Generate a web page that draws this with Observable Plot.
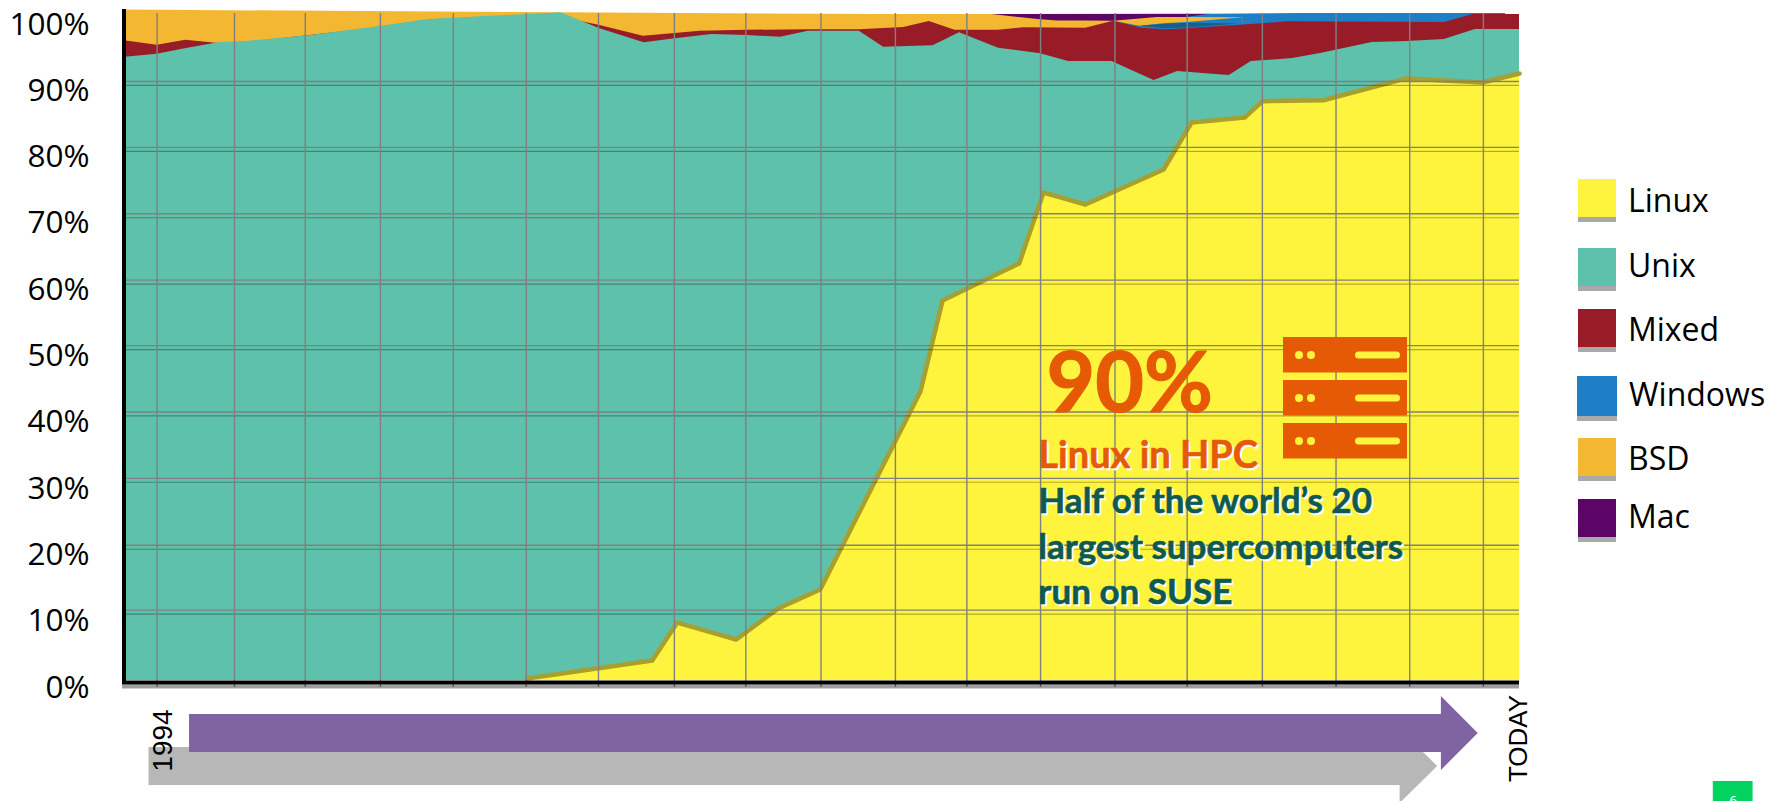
<!DOCTYPE html>
<html>
<head>
<meta charset="utf-8">
<script src="https://cdn.jsdelivr.net/npm/d3@7"></script>
<script src="https://cdn.jsdelivr.net/npm/@observablehq/plot@0.6"></script>
<style>
html,body{margin:0;padding:0;background:#fff;width:1770px;height:801px;overflow:hidden}
#chart{position:absolute;left:0;top:0}
#chart svg{display:block}
.swatch{position:absolute}
.label{position:absolute;font-family:"Open Sans",sans-serif;font-size:32px;line-height:40px;color:#000;white-space:nowrap}
</style>
</head>
<body>
<div id="chart"></div>
<script>
// Upper edge of each operating system's share of the TOP500 (cumulative %).
const linuxYears = [1999.02,2000.72,2001.06,2001.86,2002.43,2003.00,2004.36,2004.66,2005.70,2006.03,2006.60,2007.66,2008.04,2008.76,2009.00,2009.83,2010.94,2011.99,2012.49];
const linuxTop   = [0,2.71,8.44,5.88,10.55,13.42,43.28,57.01,62.59,73.30,71.49,76.77,83.86,84.61,87.07,87.22,90.49,89.89,91.25];

const unixYears = [1993.53,1994.00,1994.38,1994.83,1995.24,1996.09,1997.04,1997.68,1997.99,1999.48,2000.01,2000.61,2001.03,2001.53,2002.01,2002.46,2002.84,2003.53,2003.86,2004.53,2004.89,2005.42,2005.99,2006.37,2006.96,2007.53,2007.85,2008.55,2008.85,2009.41,2009.79,2010.49,2010.97,2011.47,2011.89,2012.49];
const unixTop   = [93.96,94.46,95.27,96.18,96.42,97.28,98.68,99.69,99.89,100.70,98.29,96.18,96.78,97.43,97.28,97.02,97.93,97.93,95.52,95.73,97.69,95.37,94.52,93.36,93.36,90.49,91.85,91.25,93.36,93.81,94.57,96.23,96.38,96.68,98.19,98.19];

const mixedYears = [1993.53,1994.00,1994.39,1994.83,1995.24,1997.99,1999.48,1999.74,2000.01,2000.60,2001.37,2002.01,2002.84,2003.53,2004.13,2004.48,2004.83,2005.42,2005.76,2006.60,2006.98,2007.37,2007.68,2007.98,2009.00,2009.34,2011.47,2011.86,2012.49];
const mixedTop   = [96.53,95.82,96.57,96.07,96.23,99.69,100.52,99.44,98.79,97.18,97.93,98.08,98.14,98.14,98.49,99.39,98.08,98.08,98.44,98.38,99.44,98.38,98.14,98.29,99.05,99.35,99.24,100.45,100.45];

const windowsYears = [2006.98,2007.34,2007.66,2007.98,2008.74];
const windowsTop   = [99.44,98.68,99.05,99.24,99.95];
const windowsOverYears = [2007.98,2008.29,2009.52,2012.30];
const windowsOverTop   = [100.04,100.49,100.60,100.60];
const windowsOverlapYears = [2007.34,2007.68,2007.98,2008.66];
const windowsOverlapLow   = [98.68,98.29,98.41,98.97];
const windowsOverlapHigh  = [98.68,98.97,99.14,99.02];

const bsdYears = [1993.53,1999.48,2003.81,2005.33,2005.99,2006.22,2006.60,2006.98,2007.38,2007.57,2007.98,2008.74];
const bsdTop   = [101.13,100.70,100.45,100.45,99.65,99.47,99.47,99.44,99.80,100.00,100.00,99.95];

const macYears = [2005.33,2008.29];
const macTop   = [100.45,100.49];

const yTicks = [0,10,20,30,40,50,60,70,80,90,100];
const gridYears = [1994.00,1995.05,1996.01,1997.03,1998.02,1999.01,1999.99,2001.02,2001.99,2003.01,2004.02,2004.99,2005.99,2007.00,2007.98,2009.00,2010.00,2011.00,2012.00];
const gridUpper = [90.35,80.40,70.40,60.40,50.50,40.50,30.50,20.40,10.60];
const gridLower = [89.75,79.80,69.80,59.80,49.90,39.90,29.90,19.80,10.00];

const headline = "90%";
const subhead = "Linux in HPC";
const bodyLines = ["Half of the world’s 20","largest supercomputers","run on SUSE"];
const bodyY = [25.19,18.40,11.61];

const legendNames  = ["Linux","Unix","Mixed","Windows","BSD","Mac"];
const legendColors = ["#FFF43D","#5DC1AB","#981C27","#1E7EC6","#F4B732","#5C0567"];

// Timeline arrows under the axis
const purpleArrow = {x:[1994.44,2011.43,2011.43,2011.93], low:[-10.86,-10.86,-13.57,-7.99], high:[-5.13,-5.13,-2.41,-7.99]};
const greyArrow   = {x:[1993.89,2010.87,2010.87,2011.38], low:[-15.84,-15.84,-18.55,-12.97], high:[-10.11,-10.11,-7.39,-12.97]};

const rows = (xs,lo,hi) => xs.map((x,i)=>({x, lo:Array.isArray(lo)?lo[i]:lo, hi:hi[i]}));
const band = (xs,hi,fill,lo=0) => Plot.areaY(rows(xs,lo,hi),{x:"x",y1:"lo",y2:"hi",fill});
const [cLinux,cUnix,cMixed,cWindows,cBSD,cMac] = legendColors;
const orange="#E65A05", deep="#0F5A4E";
const textX = 2005.96;

const plot = Plot.plot({
  width:1770, height:801,
  marginLeft:122, marginRight:251, marginTop:17, marginBottom:121,
  style:{background:"transparent",overflow:"hidden"},
  x:{domain:[1993.53,2012.49],axis:null},
  y:{domain:[0,100],axis:null},
  marks:[
    band(macYears,macTop,cMac),
    band(windowsOverYears,windowsOverTop,cWindows),
    band(bsdYears,bsdTop,cBSD),
    band(windowsYears,windowsTop,cWindows),
    band(windowsOverlapYears,windowsOverlapHigh,"#155F8A",windowsOverlapLow),
    band(mixedYears,mixedTop,cMixed),
    band(unixYears,unixTop,cUnix),
    band(linuxYears,linuxTop,cLinux),
    Plot.line(rows(linuxYears,0,linuxTop),{x:"x",y:"hi",stroke:"#A89F2C",strokeWidth:4.5,dy:-2}),
    Plot.ruleY(gridUpper,{stroke:"#808080",strokeWidth:1.3}),
    Plot.ruleY(gridLower,{stroke:"#000",strokeOpacity:0.3,strokeWidth:1.2}),
    Plot.ruleX(gridYears,{y1:-1,y2:100.6,stroke:"#808080",strokeWidth:1.4}),
    Plot.ruleY([0],{dy:6,stroke:"#000",strokeOpacity:0.38,strokeWidth:4}),
    Plot.ruleY([0],{dy:2,stroke:"#000",strokeWidth:4}),
    Plot.ruleX([1993.53],{y1:-0.6,y2:101.2,dx:1.5,stroke:"#000",strokeWidth:4}),
    Plot.axisY({ticks:yTicks,tickSize:0,tickPadding:33,tickFormat:d=>d+"%",fontSize:31.5,fontFamily:"Open Sans",dy:7,label:null,fill:"#000"}),
    band(greyArrow.x,greyArrow.high,"#B7B7B7",greyArrow.low),
    band(purpleArrow.x,purpleArrow.high,"#8064A2",purpleArrow.low),
    Plot.text(["1994"],{x:1994.08,y:-9.05,rotate:-90,fontSize:28,fontFamily:"Liberation Sans",fill:"#000"}),
    Plot.text(["TODAY"],{x:2012.48,y:-8.75,rotate:-90,fontSize:26,fontFamily:"Liberation Sans",fill:"#000"}),
    Plot.rect([0],{x1:2015.12,x2:2015.66,y1:-18.3,y2:-15.23,fill:"#02D35F"}),
    Plot.text(["6"],{x:2015.39,y:-18.3,fontSize:14,fontFamily:"Open Sans",fill:"#fff"}),
    Plot.text([headline],{x:2006.07,y:40.47,lineAnchor:"bottom",textAnchor:"start",fontFamily:"Lato",fontWeight:700,fontSize:84,stroke:orange,strokeWidth:1.2,fill:orange}),
    Plot.text([subhead],{x:textX,y:31.98,dx:2,dy:2,lineAnchor:"bottom",textAnchor:"start",fontFamily:"Lato",fontWeight:700,fontSize:38,stroke:"#fff",strokeWidth:0.6,fill:"#fff"}),
    Plot.text([subhead],{x:textX,y:31.98,lineAnchor:"bottom",textAnchor:"start",fontFamily:"Lato",fontWeight:700,fontSize:38,stroke:orange,strokeWidth:0.6,fill:orange}),
    Plot.text(bodyLines,{x:textX,y:(d,i)=>bodyY[i],dx:2,dy:2,lineAnchor:"bottom",textAnchor:"start",fontFamily:"Lato",fontWeight:700,fontSize:35,stroke:"#fff",strokeWidth:0.6,fill:"#fff"}),
    Plot.text(bodyLines,{x:textX,y:(d,i)=>bodyY[i],lineAnchor:"bottom",textAnchor:"start",fontFamily:"Lato",fontWeight:700,fontSize:35,stroke:deep,strokeWidth:0.6,fill:deep})
  ]
});
document.getElementById("chart").appendChild(plot);

// Legend (positions are page layout)
const legendTop   = [179,248,309,376,438,499];
const legendH     = [38,38,37.5,40,38,37.5];
const legendLabel = [199.5,264.5,328.5,393.5,457.5,515.5];
legendNames.forEach((n,i)=>{
  const wide = n==="Windows";
  const s=document.createElement("div"); s.className="swatch";
  s.style.cssText=`left:${wide?1577:1578}px;top:${legendTop[i]}px;width:${wide?40:38}px;height:${legendH[i]}px;background:${legendColors[i]};border-bottom:5px solid #a9a9a9`;
  document.body.appendChild(s);
  const t=document.createElement("div"); t.className="label"; t.textContent=n;
  t.style.cssText=`left:${wide?1629:1628}px;top:${legendLabel[i]-20}px`;
  document.body.appendChild(t);
});

// Server icon
const ns="http://www.w3.org/2000/svg";
const icon=document.createElementNS(ns,"svg");
icon.setAttribute("width","126"); icon.setAttribute("height","124");
icon.style.cssText="position:absolute;left:1282px;top:336px";
[1,44,87].forEach(y=>{
  const add=(tag,attrs)=>{const e=document.createElementNS(ns,tag);for(const k in attrs)e.setAttribute(k,attrs[k]);icon.appendChild(e);};
  add("rect",{x:1,y,width:124,height:35.5,fill:orange});
  add("circle",{cx:17,cy:y+18,r:4,fill:"#FFF43D"});
  add("circle",{cx:29,cy:y+18,r:4,fill:"#FFF43D"});
  add("rect",{x:73,y:y+14.5,width:45,height:7,rx:3.5,fill:"#FFF43D"});
});
document.body.appendChild(icon);
</script>
</body>
</html>
